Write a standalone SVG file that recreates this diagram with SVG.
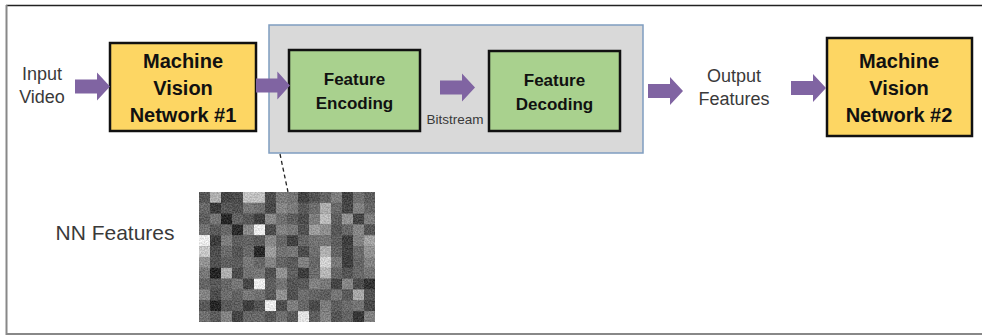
<svg xmlns="http://www.w3.org/2000/svg" width="982" height="336" viewBox="0 0 982 336">
  <style>
    .lbl { font-family: "Liberation Sans", Arial, sans-serif; fill: #3a3a3a; text-anchor: middle; }
    .bold { font-family: "Liberation Sans", Arial, sans-serif; font-weight: bold; fill: #111; text-anchor: middle; }
    .mvn { fill: #FDD663; stroke: #111; stroke-width: 2.5; }
    .feat { fill: #A9D18E; stroke: #111; stroke-width: 2.5; }
    .arrow { fill: #8064A2; }
  </style>
  <defs>
    <!-- block arrow, 35 px long, tip at x=35 -->
    <polygon id="blockArrow" points="0,-7 22,-7 22,-14 35,0 22,14 22,7 0,7"/>
    <!-- lift the tile levels and add a fine texture inside each tile -->
    <filter id="grain" x="0" y="0" width="100%" height="100%" color-interpolation-filters="sRGB">
      <feComponentTransfer in="SourceGraphic" result="bright">
        <feFuncR type="linear" slope="1.3" intercept="0.02"/>
        <feFuncG type="linear" slope="1.3" intercept="0.02"/>
        <feFuncB type="linear" slope="1.3" intercept="0.02"/>
      </feComponentTransfer>
      <feTurbulence type="fractalNoise" baseFrequency="0.7" numOctaves="2" seed="7" result="noise"/>
      <feColorMatrix in="noise" type="matrix" values="2.2 0 0 0 -0.6  2.2 0 0 0 -0.6  2.2 0 0 0 -0.6  0 0 0 0 0.16" result="gnoise"/>
      <feComposite in="gnoise" in2="SourceAlpha" operator="in" result="gn"/>
      <feMerge><feMergeNode in="bright"/><feMergeNode in="gn"/></feMerge>
    </filter>
  </defs>

  <rect width="982" height="336" fill="#fff"/>

  <!-- page frame -->
  <g id="frame">
    <line x1="6" y1="5.5" x2="982" y2="5.5" stroke="#222" stroke-width="1.5"/>
    <line x1="6.5" y1="5" x2="6.5" y2="335" stroke="#888" stroke-width="2"/>
    <line x1="6" y1="334" x2="982" y2="334" stroke="#888" stroke-width="2"/>
  </g>

  <!-- codec container -->
  <g id="codec">
    <rect x="269" y="25" width="374" height="128" fill="#D9D9D9" stroke="#7F9DC0" stroke-width="1.5"/>
  </g>

  <g id="input-video">
    <text class="lbl" font-size="18" x="42" y="80">Input</text>
    <text class="lbl" font-size="18" x="42" y="103">Video</text>
  </g>

  <g id="mvn1">
    <rect class="mvn" x="110" y="43" width="146" height="88"/>
    <text class="bold" font-size="20" x="183" y="68">Machine</text>
    <text class="bold" font-size="20" x="183" y="95">Vision</text>
    <text class="bold" font-size="20" x="183" y="122">Network #1</text>
  </g>

  <g id="feature-encoding">
    <rect class="feat" x="289" y="50" width="131" height="81"/>
    <text class="bold" font-size="17" x="354.5" y="85">Feature</text>
    <text class="bold" font-size="17" x="354.5" y="109">Encoding</text>
  </g>

  <g id="bitstream">
    <text class="lbl" font-size="13.5" x="455" y="124">Bitstream</text>
  </g>

  <g id="feature-decoding">
    <rect class="feat" x="489" y="51" width="131" height="80"/>
    <text class="bold" font-size="17" x="554.5" y="86">Feature</text>
    <text class="bold" font-size="17" x="554.5" y="110">Decoding</text>
  </g>

  <g id="output-features">
    <text class="lbl" font-size="18" x="734" y="82">Output</text>
    <text class="lbl" font-size="18" x="734" y="105">Features</text>
  </g>

  <g id="mvn2">
    <rect class="mvn" x="827" y="38" width="145" height="98"/>
    <text class="bold" font-size="20" x="899" y="68">Machine</text>
    <text class="bold" font-size="20" x="899" y="95">Vision</text>
    <text class="bold" font-size="20" x="899" y="122">Network #2</text>
  </g>

  <g id="nn-features-label">
    <text class="lbl" font-size="21" x="115" y="240" fill="#222">NN Features</text>
  </g>

  <!-- feature map: 16 x 12 grid of activation tiles -->
  <g id="nn-features-map" filter="url(#grain)">
    <rect x="199" y="192" width="176" height="130" fill="#444"/>
    <g transform="translate(199 192) scale(11 10.833)">
      <!-- row 0 -->
      <rect x="0" y="0" width="1" height="1" fill="#3a3a3a"/><rect x="1" y="0" width="1" height="1" fill="#8a8a8a"/><rect x="2" y="0" width="1" height="1" fill="#2a2a2a"/><rect x="3" y="0" width="1" height="1" fill="#303030"/><rect x="4" y="0" width="1" height="1" fill="#9a9a9a"/><rect x="5" y="0" width="1" height="1" fill="#9c9c9c"/><rect x="6" y="0" width="1" height="1" fill="#303030"/><rect x="7" y="0" width="1" height="1" fill="#5a5a5a"/><rect x="8" y="0" width="1" height="1" fill="#555"/><rect x="9" y="0" width="1" height="1" fill="#282828"/><rect x="10" y="0" width="1" height="1" fill="#383838"/><rect x="11" y="0" width="1" height="1" fill="#444"/><rect x="12" y="0" width="1" height="1" fill="#5e5e5e"/><rect x="13" y="0" width="1" height="1" fill="#282828"/><rect x="14" y="0" width="1" height="1" fill="#505050"/><rect x="15" y="0" width="1" height="1" fill="#404040"/>
      <!-- row 1 -->
      <rect x="0" y="1" width="1" height="1" fill="#4a4a4a"/><rect x="1" y="1" width="1" height="1" fill="#202020"/><rect x="2" y="1" width="1" height="1" fill="#3a3a3a"/><rect x="3" y="1" width="1" height="1" fill="#343434"/><rect x="4" y="1" width="1" height="1" fill="#585858"/><rect x="5" y="1" width="1" height="1" fill="#505050"/><rect x="6" y="1" width="1" height="1" fill="#2c2c2c"/><rect x="7" y="1" width="1" height="1" fill="#646464"/><rect x="8" y="1" width="1" height="1" fill="#5a5a5a"/><rect x="9" y="1" width="1" height="1" fill="#3c3c3c"/><rect x="10" y="1" width="1" height="1" fill="#4e4e4e"/><rect x="11" y="1" width="1" height="1" fill="#888"/><rect x="12" y="1" width="1" height="1" fill="#4a4a4a"/><rect x="13" y="1" width="1" height="1" fill="#2a2a2a"/><rect x="14" y="1" width="1" height="1" fill="#606060"/><rect x="15" y="1" width="1" height="1" fill="#484848"/>
      <!-- row 2 -->
      <rect x="0" y="2" width="1" height="1" fill="#404040"/><rect x="1" y="2" width="1" height="1" fill="#565656"/><rect x="2" y="2" width="1" height="1" fill="#0e0e0e"/><rect x="3" y="2" width="1" height="1" fill="#444"/><rect x="4" y="2" width="1" height="1" fill="#3a3a3a"/><rect x="5" y="2" width="1" height="1" fill="#242424"/><rect x="6" y="2" width="1" height="1" fill="#666"/><rect x="7" y="2" width="1" height="1" fill="#505050"/><rect x="8" y="2" width="1" height="1" fill="#404040"/><rect x="9" y="2" width="1" height="1" fill="#303030"/><rect x="10" y="2" width="1" height="1" fill="#5c5c5c"/><rect x="11" y="2" width="1" height="1" fill="#969696"/><rect x="12" y="2" width="1" height="1" fill="#404040"/><rect x="13" y="2" width="1" height="1" fill="#707070"/><rect x="14" y="2" width="1" height="1" fill="#2a2a2a"/><rect x="15" y="2" width="1" height="1" fill="#5c5c5c"/>
      <!-- row 3 -->
      <rect x="0" y="3" width="1" height="1" fill="#525252"/><rect x="1" y="3" width="1" height="1" fill="#3c3c3c"/><rect x="2" y="3" width="1" height="1" fill="#484848"/><rect x="3" y="3" width="1" height="1" fill="#121212"/><rect x="4" y="3" width="1" height="1" fill="#666"/><rect x="5" y="3" width="1" height="1" fill="#e8e8e8"/><rect x="6" y="3" width="1" height="1" fill="#303030"/><rect x="7" y="3" width="1" height="1" fill="#606060"/><rect x="8" y="3" width="1" height="1" fill="#585858"/><rect x="9" y="3" width="1" height="1" fill="#363636"/><rect x="10" y="3" width="1" height="1" fill="#787878"/><rect x="11" y="3" width="1" height="1" fill="#6c6c6c"/><rect x="12" y="3" width="1" height="1" fill="#3a3a3a"/><rect x="13" y="3" width="1" height="1" fill="#484848"/><rect x="14" y="3" width="1" height="1" fill="#646464"/><rect x="15" y="3" width="1" height="1" fill="#383838"/>
      <!-- row 4 -->
      <rect x="0" y="4" width="1" height="1" fill="#f0f0f0"/><rect x="1" y="4" width="1" height="1" fill="#222"/><rect x="2" y="4" width="1" height="1" fill="#5c5c5c"/><rect x="3" y="4" width="1" height="1" fill="#404040"/><rect x="4" y="4" width="1" height="1" fill="#444"/><rect x="5" y="4" width="1" height="1" fill="#3c3c3c"/><rect x="6" y="4" width="1" height="1" fill="#666"/><rect x="7" y="4" width="1" height="1" fill="#484848"/><rect x="8" y="4" width="1" height="1" fill="#262626"/><rect x="9" y="4" width="1" height="1" fill="#484848"/><rect x="10" y="4" width="1" height="1" fill="#525252"/><rect x="11" y="4" width="1" height="1" fill="#545454"/><rect x="12" y="4" width="1" height="1" fill="#404040"/><rect x="13" y="4" width="1" height="1" fill="#242424"/><rect x="14" y="4" width="1" height="1" fill="#606060"/><rect x="15" y="4" width="1" height="1" fill="#808080"/>
      <!-- row 5 -->
      <rect x="0" y="5" width="1" height="1" fill="#a0a0a0"/><rect x="1" y="5" width="1" height="1" fill="#303030"/><rect x="2" y="5" width="1" height="1" fill="#4c4c4c"/><rect x="3" y="5" width="1" height="1" fill="#383838"/><rect x="4" y="5" width="1" height="1" fill="#4a4a4a"/><rect x="5" y="5" width="1" height="1" fill="#101010"/><rect x="6" y="5" width="1" height="1" fill="#7a7a7a"/><rect x="7" y="5" width="1" height="1" fill="#525252"/><rect x="8" y="5" width="1" height="1" fill="#565656"/><rect x="9" y="5" width="1" height="1" fill="#303030"/><rect x="10" y="5" width="1" height="1" fill="#505050"/><rect x="11" y="5" width="1" height="1" fill="#8a8a8a"/><rect x="12" y="5" width="1" height="1" fill="#444"/><rect x="13" y="5" width="1" height="1" fill="#262626"/><rect x="14" y="5" width="1" height="1" fill="#4c4c4c"/><rect x="15" y="5" width="1" height="1" fill="#707070"/>
      <!-- row 6 -->
      <rect x="0" y="6" width="1" height="1" fill="#707070"/><rect x="1" y="6" width="1" height="1" fill="#343434"/><rect x="2" y="6" width="1" height="1" fill="#404040"/><rect x="3" y="6" width="1" height="1" fill="#3e3e3e"/><rect x="4" y="6" width="1" height="1" fill="#585858"/><rect x="5" y="6" width="1" height="1" fill="#484848"/><rect x="6" y="6" width="1" height="1" fill="#626262"/><rect x="7" y="6" width="1" height="1" fill="#464646"/><rect x="8" y="6" width="1" height="1" fill="#3c3c3c"/><rect x="9" y="6" width="1" height="1" fill="#606060"/><rect x="10" y="6" width="1" height="1" fill="#484848"/><rect x="11" y="6" width="1" height="1" fill="#aaa"/><rect x="12" y="6" width="1" height="1" fill="#585858"/><rect x="13" y="6" width="1" height="1" fill="#222"/><rect x="14" y="6" width="1" height="1" fill="#464646"/><rect x="15" y="6" width="1" height="1" fill="#626262"/>
      <!-- row 7 -->
      <rect x="0" y="7" width="1" height="1" fill="#585858"/><rect x="1" y="7" width="1" height="1" fill="#0c0c0c"/><rect x="2" y="7" width="1" height="1" fill="#8a8a8a"/><rect x="3" y="7" width="1" height="1" fill="#303030"/><rect x="4" y="7" width="1" height="1" fill="#525252"/><rect x="5" y="7" width="1" height="1" fill="#565656"/><rect x="6" y="7" width="1" height="1" fill="#343434"/><rect x="7" y="7" width="1" height="1" fill="#707070"/><rect x="8" y="7" width="1" height="1" fill="#424242"/><rect x="9" y="7" width="1" height="1" fill="#222"/><rect x="10" y="7" width="1" height="1" fill="#4c4c4c"/><rect x="11" y="7" width="1" height="1" fill="#909090"/><rect x="12" y="7" width="1" height="1" fill="#464646"/><rect x="13" y="7" width="1" height="1" fill="#383838"/><rect x="14" y="7" width="1" height="1" fill="#4a4a4a"/><rect x="15" y="7" width="1" height="1" fill="#565656"/>
      <!-- row 8 -->
      <rect x="0" y="8" width="1" height="1" fill="#464646"/><rect x="1" y="8" width="1" height="1" fill="#3a3a3a"/><rect x="2" y="8" width="1" height="1" fill="#484848"/><rect x="3" y="8" width="1" height="1" fill="#585858"/><rect x="4" y="8" width="1" height="1" fill="#2a2a2a"/><rect x="5" y="8" width="1" height="1" fill="#e4e4e4"/><rect x="6" y="8" width="1" height="1" fill="#404040"/><rect x="7" y="8" width="1" height="1" fill="#545454"/><rect x="8" y="8" width="1" height="1" fill="#383838"/><rect x="9" y="8" width="1" height="1" fill="#3c3c3c"/><rect x="10" y="8" width="1" height="1" fill="#606060"/><rect x="11" y="8" width="1" height="1" fill="#585858"/><rect x="12" y="8" width="1" height="1" fill="#2a2a2a"/><rect x="13" y="8" width="1" height="1" fill="#646464"/><rect x="14" y="8" width="1" height="1" fill="#303030"/><rect x="15" y="8" width="1" height="1" fill="#1a1a1a"/>
      <!-- row 9 -->
      <rect x="0" y="9" width="1" height="1" fill="#626262"/><rect x="1" y="9" width="1" height="1" fill="#303030"/><rect x="2" y="9" width="1" height="1" fill="#4e4e4e"/><rect x="3" y="9" width="1" height="1" fill="#444"/><rect x="4" y="9" width="1" height="1" fill="#585858"/><rect x="5" y="9" width="1" height="1" fill="#505050"/><rect x="6" y="9" width="1" height="1" fill="#3a3a3a"/><rect x="7" y="9" width="1" height="1" fill="#6e6e6e"/><rect x="8" y="9" width="1" height="1" fill="#343434"/><rect x="9" y="9" width="1" height="1" fill="#4e4e4e"/><rect x="10" y="9" width="1" height="1" fill="#464646"/><rect x="11" y="9" width="1" height="1" fill="#404040"/><rect x="12" y="9" width="1" height="1" fill="#565656"/><rect x="13" y="9" width="1" height="1" fill="#3c3c3c"/><rect x="14" y="9" width="1" height="1" fill="#848484"/><rect x="15" y="9" width="1" height="1" fill="#363636"/>
      <!-- row 10 -->
      <rect x="0" y="10" width="1" height="1" fill="#3a3a3a"/><rect x="1" y="10" width="1" height="1" fill="#0e0e0e"/><rect x="2" y="10" width="1" height="1" fill="#3c3c3c"/><rect x="3" y="10" width="1" height="1" fill="#424242"/><rect x="4" y="10" width="1" height="1" fill="#242424"/><rect x="5" y="10" width="1" height="1" fill="#363636"/><rect x="6" y="10" width="1" height="1" fill="#d8d8d8"/><rect x="7" y="10" width="1" height="1" fill="#303030"/><rect x="8" y="10" width="1" height="1" fill="#5e5e5e"/><rect x="9" y="10" width="1" height="1" fill="#484848"/><rect x="10" y="10" width="1" height="1" fill="#2e2e2e"/><rect x="11" y="10" width="1" height="1" fill="#5c5c5c"/><rect x="12" y="10" width="1" height="1" fill="#404040"/><rect x="13" y="10" width="1" height="1" fill="#4c4c4c"/><rect x="14" y="10" width="1" height="1" fill="#545454"/><rect x="15" y="10" width="1" height="1" fill="#2c2c2c"/>
      <!-- row 11 -->
      <rect x="0" y="11" width="1" height="1" fill="#505050"/><rect x="1" y="11" width="1" height="1" fill="#3e3e3e"/><rect x="2" y="11" width="1" height="1" fill="#626262"/><rect x="3" y="11" width="1" height="1" fill="#282828"/><rect x="4" y="11" width="1" height="1" fill="#484848"/><rect x="5" y="11" width="1" height="1" fill="#4a4a4a"/><rect x="6" y="11" width="1" height="1" fill="#3a3a3a"/><rect x="7" y="11" width="1" height="1" fill="#505050"/><rect x="8" y="11" width="1" height="1" fill="#3c3c3c"/><rect x="9" y="11" width="1" height="1" fill="#b8b8b8"/><rect x="10" y="11" width="1" height="1" fill="#404040"/><rect x="11" y="11" width="1" height="1" fill="#626262"/><rect x="12" y="11" width="1" height="1" fill="#383838"/><rect x="13" y="11" width="1" height="1" fill="#464646"/><rect x="14" y="11" width="1" height="1" fill="#1c1c1c"/><rect x="15" y="11" width="1" height="1" fill="#606060"/>
    </g>
  </g>

  <!-- connectors -->
  <g id="connectors">
    <use href="#blockArrow" class="arrow" transform="translate(75 86.5)"/>
    <use href="#blockArrow" class="arrow" transform="translate(256 85.5) scale(0.97 1)"/>
    <use href="#blockArrow" class="arrow" transform="translate(440 87.5)"/>
    <use href="#blockArrow" class="arrow" transform="translate(648 91)"/>
    <use href="#blockArrow" class="arrow" transform="translate(791 88)"/>
    <line x1="280" y1="154" x2="288" y2="192" stroke="#222" stroke-width="1.3" stroke-dasharray="4 3"/>
  </g>
</svg>
